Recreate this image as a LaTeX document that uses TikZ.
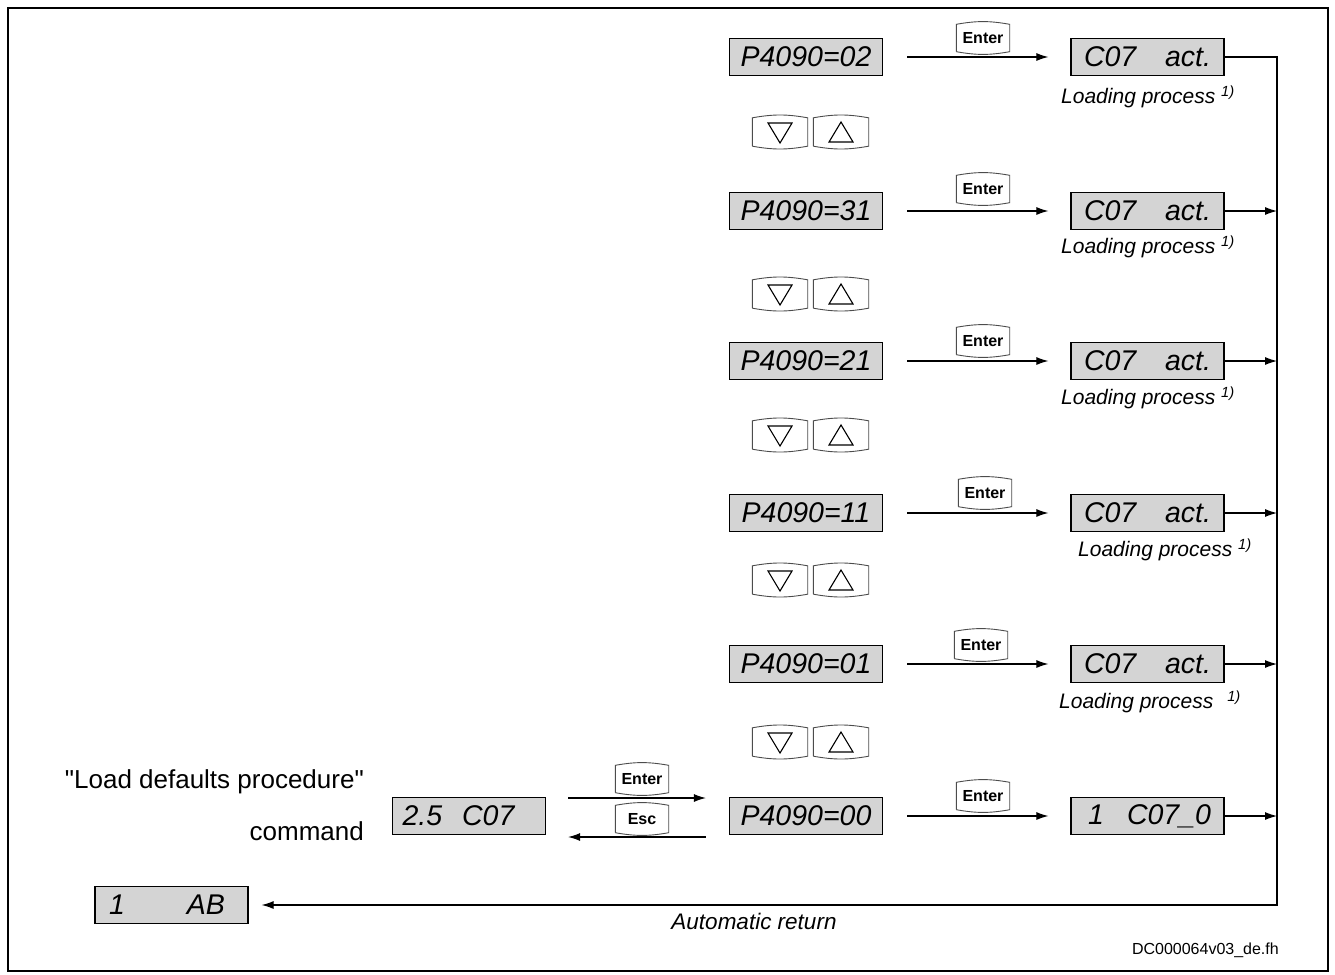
\documentclass[tikz,border=0pt]{standalone}
\usepackage{fontspec}
\setmainfont{Liberation Sans}[Ligatures=TeXOff]
\usetikzlibrary{arrows.meta}
\begin{document}
\begin{tikzpicture}[x=1pt,y=1pt,
  display/.style={draw=black, line width=1.2pt, fill=black!17, minimum width=153pt,
    minimum height=37pt, inner sep=0pt, font=\itshape\fontsize{28.5}{28.5}\selectfont},
  keycap/.style={minimum width=53pt, minimum height=27pt, inner sep=0pt,
    font=\bfseries\fontsize{16}{16}\selectfont},
  arrowkey/.style={minimum width=55pt, minimum height=28pt, inner sep=0pt},
  keyline/.style={draw=black!70, line width=0.9pt},
  tri/.style={draw=black, line width=1.1pt, line join=miter},
  arr/.style={line width=1.1pt, -{Latex[length=12pt,width=8pt]}},
  note/.style={font=\itshape\fontsize{21}{21}\selectfont, inner sep=0pt},
]
\useasboundingbox (0,0) rectangle (1335,-974);
\draw[line width=2.2pt] (8,-8) rectangle (1328,-971);

% parameter displays and command displays, one row each
\foreach \i/\y/\v in {1/57/02, 2/211/31, 3/361/21, 4/513/11, 5/664/01, 6/816/00} {
  \node[display] (p\i) at (806,-\y) {P4090=\v};
}
\foreach \i/\y in {1/57, 2/211, 3/361, 4/513, 5/664} {
  \node[display] (c\i) at (1147.5,-\y) {\makebox[127pt]{C07\hfill act.}};
}
\node[display] (c6) at (1147.5,-816) {\makebox[127pt]{\hspace{4pt}1\hfill C07\_0}};

\node[display] (cmd) at (469,-816) {\makebox[133pt][l]{2.5\hspace{20pt}C07}};
\node[display] (ab) at (171.5,-905) {\makebox[125pt]{1\hfill AB\hspace{9pt}}};

% Enter keys
\foreach \i/\x/\y in {1/983/38, 2/983/189, 3/983/341, 4/985/493, 5/981/645, 6/983/796} {
  \node[keycap] (e\i) at (\x,-\y) {Enter};
}
\node[keycap] (ent) at (642,-779) {Enter};
\node[keycap] (esc) at (642,-819) {Esc};
\foreach \k in {e1,e2,e3,e4,e5,e6,ent,esc} {
  \draw[keyline] (\k.south west) -- (\k.north west) to[bend left=10] (\k.north east)
    -- (\k.south east) to[bend left=10] (\k.south west);
}

% down / up keys
\foreach \i/\y in {1/132, 2/294, 3/435, 4/580, 5/742} {
  \node[arrowkey] (dn\i) at (780,-\y) {};
  \node[arrowkey] (up\i) at (841,-\y) {};
  \foreach \k in {dn\i,up\i} {
    \draw[keyline] (\k.south west) -- (\k.north west) to[bend left=10] (\k.north east)
      -- (\k.south east) to[bend left=10] (\k.south west);
  }
  \draw[tri] ([shift={(-12,9)}]dn\i.center) -- ([shift={(12,9)}]dn\i.center)
    -- ([shift={(0,-11)}]dn\i.center) -- cycle;
  \draw[tri] ([shift={(-12,-10)}]up\i.center) -- ([shift={(12,-10)}]up\i.center)
    -- ([shift={(0,10)}]up\i.center) -- cycle;
}

% loading notes
\node[note, anchor=west] (l1) at (1061,-97) {Loading process \textsuperscript{1)}};
\node[note, anchor=west] (l2) at (1061,-247) {Loading process \textsuperscript{1)}};
\node[note, anchor=west] (l3) at (1061,-398) {Loading process \textsuperscript{1)}};
\node[note, anchor=west] (l4) at (1078,-550) {Loading process \textsuperscript{1)}};
\node[note, anchor=west] (l5) at (1059,-702) {Loading process\hspace{14pt}\textsuperscript{1)}};

% transitions
\foreach \i in {1,...,6} {
  \draw[arr, shorten <=24pt, shorten >=22pt] (p\i.east) -- (c\i.west);
}
\coordinate (rt) at (1277,-57);
\coordinate (rb) at (1277,-905);
\draw[arr, shorten >=13pt] (c1.east) -- (rt) -- (rb) -- (ab.east);
\foreach \i in {2,...,6} {
  \draw[arr] (c\i.east) -- (c\i.east -| rt);
}
\draw[arr, shorten <=22pt, shorten >=23pt] ([yshift=18pt]cmd.east) -- ([yshift=18pt]p6.west);
\draw[arr, shorten <=23pt, shorten >=22pt] ([yshift=-21pt]p6.west) -- ([yshift=-21pt]cmd.east);

% labels
\node[font=\fontsize{26}{52}\selectfont, align=right, anchor=east, inner sep=0pt] (cmdtxt)
  at (364,-805) {"Load defaults procedure"\\command};
\node[font=\itshape\fontsize{22.5}{22.5}\selectfont, inner sep=0pt] (ret)
  at (754,-921) {Automatic return};
\node[font=\fontsize{16}{16}\selectfont, anchor=east, inner sep=0pt] (id)
  at (1279,-950) {DC000064v03\_de.fh};
\end{tikzpicture}
\end{document}
